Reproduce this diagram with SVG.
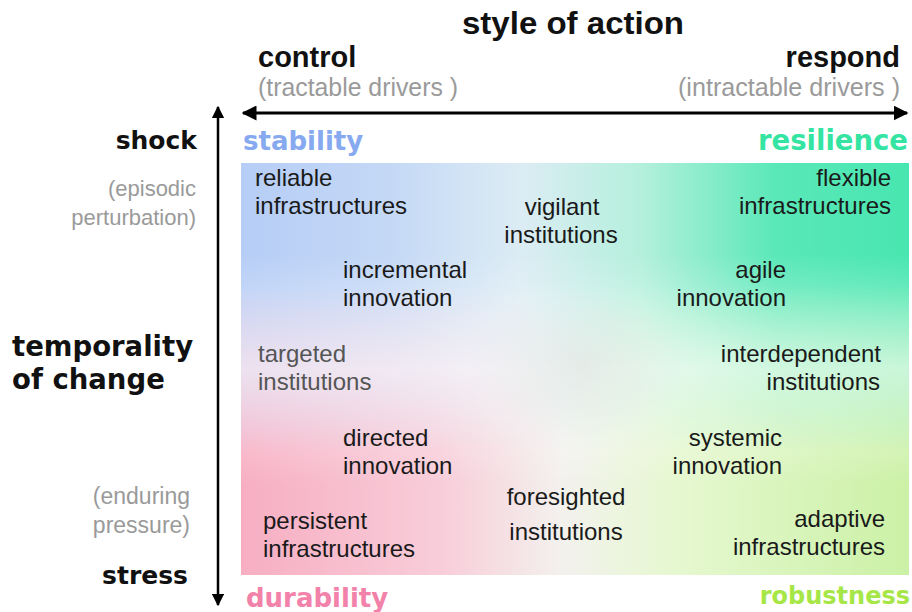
<svg xmlns="http://www.w3.org/2000/svg" width="912" height="612" viewBox="0 0 912 612">
<style>
.t{font-family:"Liberation Sans",Arial,sans-serif;font-size:24px;fill:#1a1a1a}
.g{font-family:"Liberation Sans",Arial,sans-serif;font-size:23px;fill:#9a9a9a}
.h{font-family:"Liberation Sans",Arial,sans-serif;font-weight:bold;font-size:30px;fill:#111}
.v{font-family:"DejaVu Sans",Verdana,sans-serif;font-weight:bold;font-size:25px;fill:#111}
.q{font-family:"DejaVu Sans",Verdana,sans-serif;font-weight:bold;font-size:26px}
.r{text-anchor:end}
.m{text-anchor:middle}
</style>
<defs>
<linearGradient id="top" x1="0" y1="0" x2="1" y2="0">
<stop offset="0" stop-color="#b6cdf6"/>
<stop offset="0.22" stop-color="#c4d8f6"/>
<stop offset="0.42" stop-color="#dcecf4"/>
<stop offset="0.6" stop-color="#b4f0dc"/>
<stop offset="0.8" stop-color="#5ae8b8"/>
<stop offset="1" stop-color="#48e6b0"/>
</linearGradient>
<linearGradient id="bot" x1="0" y1="0" x2="1" y2="0">
<stop offset="0" stop-color="#f7aec3"/>
<stop offset="0.3" stop-color="#f8cdd9"/>
<stop offset="0.48" stop-color="#f3f1ee"/>
<stop offset="0.65" stop-color="#e6f8d0"/>
<stop offset="1" stop-color="#cbf1a6"/>
</linearGradient>
<linearGradient id="vm" x1="0" y1="0" x2="0" y2="1">
<stop offset="0" stop-color="#fff"/>
<stop offset="0.3" stop-color="#fff"/>
<stop offset="0.7" stop-color="#000"/>
<stop offset="1" stop-color="#000"/>
</linearGradient>
<linearGradient id="wh" x1="0" y1="0" x2="0" y2="1">
<stop offset="0.22" stop-color="#fff" stop-opacity="0"/>
<stop offset="0.5" stop-color="#fff" stop-opacity="0.55"/>
<stop offset="0.78" stop-color="#fff" stop-opacity="0"/>
</linearGradient>
<mask id="mk" maskUnits="userSpaceOnUse" x="241" y="163" width="668" height="412">
<rect x="241" y="163" width="668" height="412" fill="url(#vm)"/>
</mask>
<radialGradient id="ctr" cx="0.5" cy="0.5" r="0.5">
<stop offset="0" stop-color="#d4d8d4" stop-opacity="0.4"/>
<stop offset="1" stop-color="#d4d8d4" stop-opacity="0"/>
</radialGradient>
<marker id="ah" viewBox="0 0 10 10" refX="9" refY="5" markerWidth="5" markerHeight="5" orient="auto-start-reverse">
<path d="M0,0 L10,5 L0,10 z" fill="#000"/>
</marker>
</defs>
<g id="background">
<rect x="241" y="163" width="668" height="412" fill="url(#bot)"/>
<rect x="241" y="163" width="668" height="412" fill="url(#top)" mask="url(#mk)"/>
<rect x="241" y="163" width="668" height="412" fill="url(#wh)"/>
<ellipse cx="580" cy="365" rx="110" ry="75" fill="url(#ctr)"/>
</g>
<g id="connectors">
<line x1="243" y1="113" x2="907" y2="113" stroke="#000" stroke-width="3" marker-start="url(#ah)" marker-end="url(#ah)"/>
<line x1="218" y1="107" x2="218" y2="605" stroke="#000" stroke-width="2.5" marker-start="url(#ah)" marker-end="url(#ah)"/>
</g>
<g id="axis-x">
<text class="h m" x="573" y="34" style="font-size:31px" textLength="222" lengthAdjust="spacingAndGlyphs">style of action</text>
<text class="h" x="258" y="67" style="font-size:29px">control</text>
<text class="h r" x="900" y="67" style="font-size:29px">respond</text>
<text class="g" x="258" y="96" style="font-size:25px" textLength="200" lengthAdjust="spacingAndGlyphs">(tractable drivers )</text>
<text class="g r" x="900" y="96" style="font-size:25px" textLength="222" lengthAdjust="spacingAndGlyphs">(intractable drivers )</text>
</g>
<g id="axis-y">
<text class="v r" x="197" y="149">shock</text>
<text class="g r" x="196" y="196" style="font-size:22px">(episodic</text>
<text class="g r" x="196" y="225" style="font-size:22px">perturbation)</text>
<text class="v" x="12" y="356" style="font-size:27.5px">temporality</text>
<text class="v" x="12" y="389" style="font-size:27.5px">of change</text>
<text class="g r" x="190" y="504">(enduring</text>
<text class="g r" x="190" y="533">pressure)</text>
<text class="v r" x="188" y="584">stress</text>
</g>
<g id="corners">
<text class="q" x="243" y="150" fill="#86a9ef">stability</text>
<text class="q r" x="908" y="150" fill="#34e4a2" style="font-size:27.5px">resilience</text>
<text class="q" x="246" y="607" fill="#f282aa">durability</text>
<text class="q r" x="910" y="604" fill="#a6e646" style="font-size:24px">robustness</text>
</g>
<g id="reliable-infrastructures"><text class="t" x="255" y="186">reliable</text><text class="t" x="255" y="214">infrastructures</text></g>
<g id="vigilant-institutions"><text class="t m" x="562" y="215">vigilant</text><text class="t m" x="561" y="243">institutions</text></g>
<g id="flexible-infrastructures"><text class="t r" x="891" y="186">flexible</text><text class="t r" x="891" y="214">infrastructures</text></g>
<g id="incremental-innovation"><text class="t" x="343" y="278">incremental</text><text class="t" x="343" y="306">innovation</text></g>
<g id="agile-innovation"><text class="t r" x="786" y="278">agile</text><text class="t r" x="786" y="306">innovation</text></g>
<g id="targeted-institutions"><text class="t" x="258" y="362" style="fill:#555">targeted</text><text class="t" x="258" y="390" style="fill:#555">institutions</text></g>
<g id="interdependent-institutions"><text class="t r" x="881" y="362">interdependent</text><text class="t r" x="880" y="390">institutions</text></g>
<g id="directed-innovation"><text class="t" x="343" y="446">directed</text><text class="t" x="343" y="474">innovation</text></g>
<g id="systemic-innovation"><text class="t r" x="782" y="446">systemic</text><text class="t r" x="782" y="474">innovation</text></g>
<g id="foresighted-institutions"><text class="t m" x="566" y="505">foresighted</text><text class="t m" x="566" y="540">institutions</text></g>
<g id="persistent-infrastructures"><text class="t" x="263" y="529">persistent</text><text class="t" x="263" y="557">infrastructures</text></g>
<g id="adaptive-infrastructures"><text class="t r" x="885" y="527">adaptive</text><text class="t r" x="885" y="555">infrastructures</text></g>
</svg>
